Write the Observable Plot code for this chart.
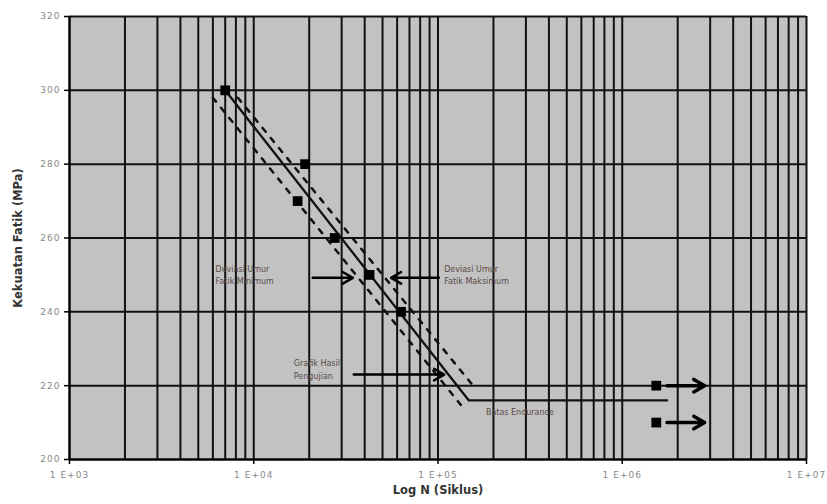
<!DOCTYPE html>
<html><head><meta charset="utf-8">
<script src="https://cdn.jsdelivr.net/npm/d3@7"></script>
<script src="https://cdn.jsdelivr.net/npm/@observablehq/plot@0.6"></script>
<style>body{margin:0;background:#fff}</style>
</head><body><div id="chart"></div>
<script>
// Tick definitions
const xTickValues = [1e3, 1e4, 1e5, 1e6, 1e7];
const xTickLabels = ["1 E+03", "1 E+04", "1 E+05", "1 E+06", "1 E+07"];
const yTickValues = [200, 220, 240, 260, 280, 300, 320];
const gridDecades = [1e3, 1e4, 1e5, 1e6];
const gridMultipliers = [1, 2, 3, 4, 5, 6, 7, 8, 9];

// Test results
const testCycles = [7000, 19000, 17300, 27500, 42500, 63000];
const testStress = [300, 280, 270, 260, 250, 240];
// Run-out specimens
const runoutCycles = [1.53e6, 1.53e6];
const runoutStress = [220, 210];
const runoutArrowStart = [1.75e6, 1.75e6];
const runoutArrowEnd = [2.8e6, 2.8e6];
// Fitted S-N curve with endurance limit
const fitCycles = [7000, 147000, 1.75e6];
const fitStress = [300, 216, 216];
// Deviation bounds
const upperCycles = [8200, 161000];
const upperStress = [298, 219];
const lowerCycles = [6000, 133000];
const lowerStress = [298, 214.8];

// Annotations
const noteLabels = ["Deviasi Umur\nFatik Minimum", "Deviasi Umur\nFatik Maksimum", "Grafik Hasil\nPengujian", "Batas Endurance"];
const noteX = [6200, 108000, 16500, 182000];
const noteY = [250.3, 250.3, 224.6, 213.2];
const noteArrowX1 = [20900, 101000, 34900];
const noteArrowX2 = [34500, 55600, 108000];
const noteArrowY = [249.2, 249.2, 223];

const gridX = [];
gridDecades.forEach(d => gridMultipliers.forEach(m => gridX.push(d * m)));
gridX.push(1e7);

const tests = testCycles.map((c, i) => ({c, s: testStress[i]}));
const runouts = runoutCycles.map((c, i) => ({c, s: runoutStress[i], x1: runoutArrowStart[i], x2: runoutArrowEnd[i]}));
const fit = fitCycles.map((c, i) => ({c, s: fitStress[i]}));
const upper = upperCycles.map((c, i) => ({c, s: upperStress[i]}));
const lower = lowerCycles.map((c, i) => ({c, s: lowerStress[i]}));
const notes = noteLabels.map((t, i) => ({t, x: noteX[i], y: noteY[i]}));
const noteArrows = noteArrowX1.map((x1, i) => ({x1, x2: noteArrowX2[i], y: noteArrowY[i]}));

const sans = "'DejaVu Sans', Verdana, sans-serif";

const chart = Plot.plot({
  width: 827,
  height: 504,
  marginLeft: 69,
  marginRight: 21,
  marginTop: 16,
  marginBottom: 45,
  style: {fontFamily: sans, background: "#fff"},
  x: {type: "log", domain: [1e3, 1e7]},
  y: {domain: [200, 320]},
  marks: [
    Plot.frame({fill: "#c2c2c2", stroke: "none"}),
    Plot.ruleX(gridX, {stroke: "#111", strokeWidth: 2}),
    Plot.ruleY(yTickValues, {stroke: "#111", strokeWidth: 2}),
    Plot.line(upper, {x: "c", y: "s", stroke: "#111", strokeWidth: 2.5, strokeDasharray: "5,8"}),
    Plot.line(lower, {x: "c", y: "s", stroke: "#111", strokeWidth: 2.5, strokeDasharray: "5,8"}),
    Plot.line(fit, {x: "c", y: "s", stroke: "#111", strokeWidth: 2.3}),
    Plot.dot(tests, {x: "c", y: "s", symbol: "square", r: 5.5, fill: "#000", stroke: "none"}),
    Plot.dot(runouts, {x: "c", y: "s", symbol: "square", r: 5.5, fill: "#000", stroke: "none"}),
    Plot.arrow(runouts, {x1: "x1", x2: "x2", y1: "s", y2: "s", stroke: "#000", strokeWidth: 3.5, headLength: 7}),
    Plot.arrow(noteArrows, {x1: "x1", x2: "x2", y1: "y", y2: "y", stroke: "#000", strokeWidth: 2.5, headLength: 7}),
    Plot.text(notes, {x: "x", y: "y", text: "t", textAnchor: "start", lineAnchor: "middle", lineHeight: 1.55, fontSize: 8, fill: "#5a4a45", fontFamily: sans}),
    Plot.axisY(yTickValues, {tickSize: 5, tickPadding: 4, fontSize: 9, color: "#888", stroke: "#000", strokeWidth: 1.5, label: null, tickFormat: d => String(d), fontFamily: sans}),
    Plot.ruleX([1e3], {stroke: "#000", strokeWidth: 2}),
    Plot.axisX(xTickValues, {tickSize: 5, tickPadding: 7, fontSize: 9, color: "#888", stroke: "#000", strokeWidth: 1.5, label: null, tickFormat: d => xTickLabels[xTickValues.indexOf(d)], fontFamily: sans}),
    Plot.ruleY([200], {stroke: "#000", strokeWidth: 2}),
    Plot.text(["Kekuatan Fatik (MPa)"], {frameAnchor: "left", textAnchor: "middle", dx: -51, rotate: -90, fontSize: 11.5, fontWeight: "bold", fill: "#333", fontFamily: sans}),
    Plot.text(["Log N (Siklus)"], {frameAnchor: "bottom", textAnchor: "middle", dy: 34, fontSize: 11.5, fontWeight: "bold", fill: "#333", fontFamily: sans})
  ]
});
d3.select(chart).selectAll("g[aria-label='x-axis tick label'] text, g[aria-label='y-axis tick label'] text").attr("letter-spacing", "1");
document.getElementById("chart").appendChild(chart);
</script>
</body></html>
